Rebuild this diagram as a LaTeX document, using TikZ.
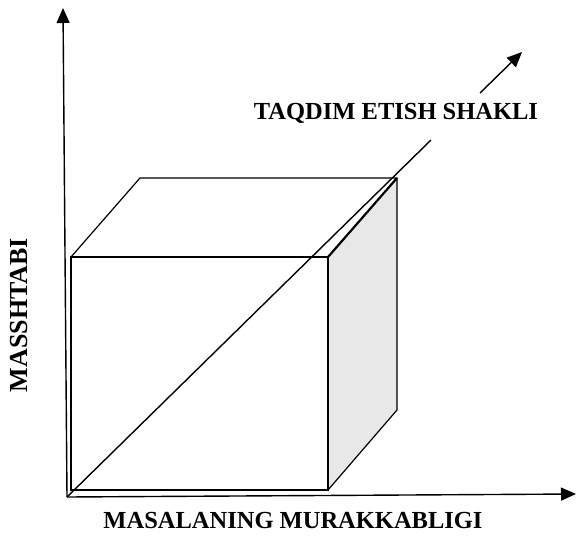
\documentclass[tikz,border=0pt]{standalone}
\usepackage{fontspec}
\setmainfont{Liberation Serif}
\usetikzlibrary{arrows.meta,positioning}

\begin{document}
\begin{tikzpicture}[x=1pt,y=-1pt,
  axis/.style={line width=1.4pt,-{Triangle[length=15pt,width=13pt]}},
  edge/.style={line width=1.2pt},
  lbl/.style={font=\bfseries\fontsize{24.5}{24.5}\selectfont,inner sep=0pt}]
\useasboundingbox (0,0) rectangle (576,536);
% corners of the cube
\coordinate (A) at (71,490);
\coordinate (B) at (328,490);
\coordinate (C) at (328,257);
\coordinate (D) at (71,257);
\coordinate (E) at (140,178);
\coordinate (F) at (397,178);
\coordinate (G) at (397,410);
% shaded side face
\fill[gray!18] (B) -- (C) -- (F) -- (G) -- cycle;
\draw[edge] (A) -- (B) -- (C) -- (D) -- cycle;
\draw[edge] (D) -- (E) -- (F) -- (G) -- (B);
\draw[line width=2.2pt] (C) -- (F);
% axes
\coordinate (O) at (67,497);
\coordinate (xend) at (576,494);
\coordinate (yend) at (63,8);
\coordinate (zend) at (522,52);
\coordinate (zlo) at (431,140);
\coordinate (zhi) at (480,93);
\draw[axis] (O) -- (xend);
\draw[axis] (O) -- (yend);
\draw[line width=1.4pt] (O) -- (zlo);
\draw[axis] (zhi) -- (zend);
% labels
\node[lbl] (xlab) at (293,521) {MASALANING MURAKKABLIGI};
\node[lbl,font=\bfseries\fontsize{26}{26}\selectfont,rotate=90] (ylab) at (19,315) {MASSHTABI};
\node[lbl] (zlab) at (396,113) {TAQDIM ETISH SHAKLI};
\end{tikzpicture}
\end{document}
